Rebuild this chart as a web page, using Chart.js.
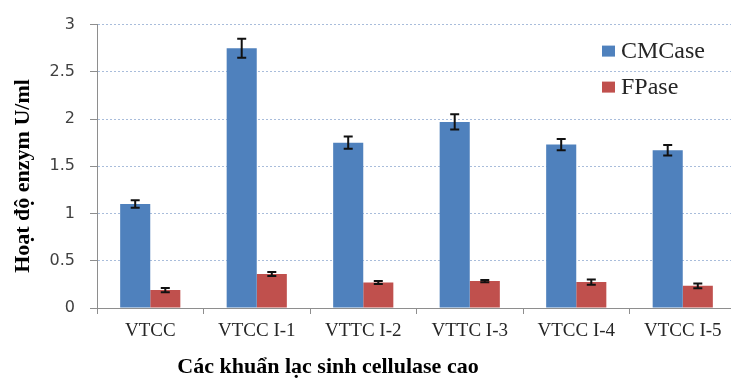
<!DOCTYPE html>
<html><head><meta charset="utf-8">
<script src="https://cdn.jsdelivr.net/npm/chart.js@4.4.0/dist/chart.umd.min.js"></script>
<style>
html,body{margin:0;padding:0;background:#fff;overflow:hidden;width:731px;height:380px}
#wrap{position:relative;width:740px;height:380px}
</style></head>
<body><div id="wrap"><canvas id="c" width="740" height="380"></canvas></div>
<script>
const categories = ["VTCC", "VTCC I-1", "VTTC I-2", "VTTC I-3", "VTCC I-4", "VTCC I-5"];
const seriesNames = ["CMCase", "FPase"];
const cmcase = [1.10, 2.75, 1.75, 1.97, 1.73, 1.67];
const cmcaseErr = [0.04, 0.10, 0.065, 0.08, 0.06, 0.055];
const fpase = [0.19, 0.36, 0.27, 0.285, 0.275, 0.235];
const fpaseErr = [0.022, 0.022, 0.015, 0.012, 0.028, 0.025];
const yTicks = [0, 0.5, 1, 1.5, 2, 2.5, 3];
const yTickLabels = ["0", "0.5", "1", "1.5", "2", "2.5", "3"];
const yTitle = "Hoạt độ enzym U/ml";
const xTitle = "Các khuẩn lạc sinh cellulase cao";

const BLUE = "#4f81bd", RED = "#c0504d", AXIS = "#8e8e8e", GRID = "#a9bddb";

const errorBars = {
  id: "errorBars",
  afterDatasetsDraw(chart) {
    const ctx = chart.ctx, y = chart.scales.y;
    chart.data.datasets.forEach((ds, i) => {
      const meta = chart.getDatasetMeta(i);
      meta.data.forEach((el, j) => {
        const v = ds.data[j], e = ds.errors[j];
        const yt = y.getPixelForValue(v + e), yb = y.getPixelForValue(v - e);
        const hw = 4.5;
        ctx.save();
        ctx.strokeStyle = "#111";
        ctx.lineWidth = 2;
        ctx.beginPath();
        ctx.moveTo(el.x, yt); ctx.lineTo(el.x, yb);
        ctx.moveTo(el.x - hw, yt); ctx.lineTo(el.x + hw, yt);
        ctx.moveTo(el.x - hw, yb); ctx.lineTo(el.x + hw, yb);
        ctx.stroke();
        ctx.restore();
      });
    });
  }
};

const extras = {
  id: "extras",
  afterDraw(chart) {
    const ctx = chart.ctx, ca = chart.chartArea;
    ctx.save();
    const lx = ca.right - 134;
    chart.data.datasets.forEach((ds, i) => {
      const top = ca.top + 21 + i * 36;
      ctx.fillStyle = ds.backgroundColor;
      ctx.fillRect(lx, top, 13, 11);
      ctx.fillStyle = "#262626";
      ctx.font = "24px 'Liberation Serif'";
      ctx.textBaseline = "alphabetic";
      ctx.textAlign = "left";
      ctx.fillText(ds.label, lx + 19, top + 12.5);
    });
    ctx.fillStyle = "#000";
    ctx.font = "bold 22px 'Liberation Serif'";
    ctx.textAlign = "center";
    ctx.textBaseline = "middle";
    ctx.fillText(xTitle, 328, 367);
    ctx.translate(23, 176);
    ctx.rotate(-Math.PI / 2);
    ctx.fillText(yTitle, 0, 0);
    ctx.restore();
  }
};

new Chart(document.getElementById("c"), {
  type: "bar",
  data: {
    labels: categories,
    datasets: [
      { label: seriesNames[0], data: cmcase, errors: cmcaseErr, backgroundColor: BLUE, borderWidth: 0 },
      { label: seriesNames[1], data: fpase, errors: fpaseErr, backgroundColor: RED, borderWidth: 0 }
    ]
  },
  options: {
    responsive: false,
    animation: false,
    layout: { padding: { top: 20, right: 4, left: 0, bottom: 0 } },
    datasets: { bar: { categoryPercentage: 0.565, barPercentage: 1.0 } },
    plugins: { legend: { display: false }, tooltip: { enabled: false }, title: { display: false } },
    scales: {
      x: {
        afterFit: s => { s.height = 72; },
        grid: { offset: true, drawOnChartArea: false, drawTicks: true, tickLength: 6, tickColor: AXIS },
        border: { display: true, color: AXIS, width: 1 },
        ticks: { color: "#262626", font: { family: "'Liberation Serif'", size: 19 }, padding: 6, maxRotation: 0, autoSkip: false }
      },
      y: {
        min: 0, max: 3,
        afterFit: s => { s.width = 97; },
        afterBuildTicks: s => { s.ticks = yTicks.map(v => ({ value: v })); },
        grid: {
          color: c => (c.tick && c.tick.value === 0) ? "rgba(0,0,0,0)" : GRID,
          lineWidth: 1, drawTicks: true, tickLength: 7, tickColor: AXIS
        },
        border: { display: true, color: AXIS, width: 1, dash: [2, 2] },
        ticks: {
          color: "#404040", font: { family: "'DejaVu Sans'", size: 16 }, padding: 15,
          callback: (v, i) => yTickLabels[yTicks.indexOf(v)] ?? String(v)
        }
      }
    }
  },
  plugins: [errorBars, extras]
});
</script>
</body></html>
